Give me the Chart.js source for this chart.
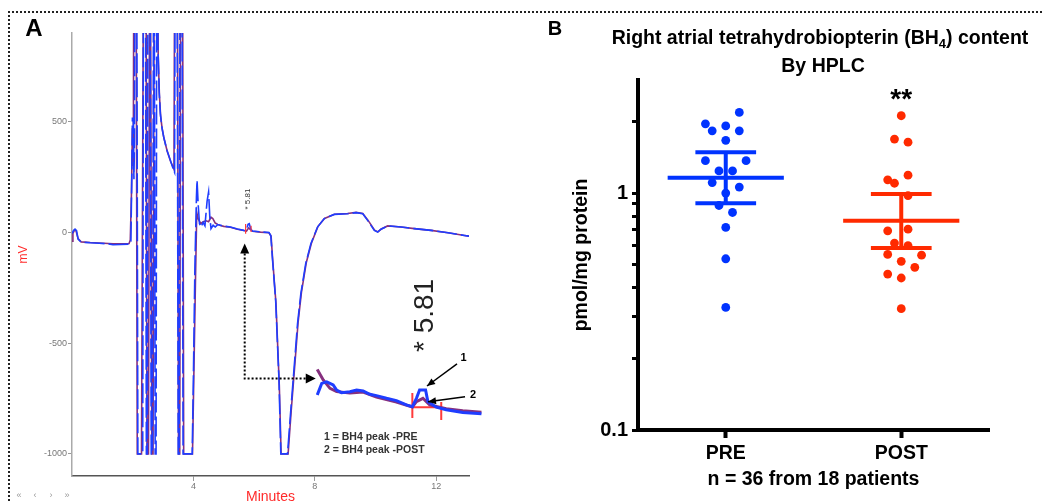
<!DOCTYPE html>
<html>
<head>
<meta charset="utf-8">
<title>Right atrial BH4 by HPLC</title>
<script src="https://cdn.jsdelivr.net/npm/chart.js@4.4.1/dist/chart.umd.min.js"></script>
<style>
  html, body { margin: 0; padding: 0; background: #fff; }
  #figure { position: relative; width: 1042px; height: 503px; overflow: hidden; }
  #figure canvas { position: absolute; }
  #chrom { left: 0; top: 0; }
  #inset { left: 316px; top: 350px; }
  #dots { left: 520px; top: 0; }
  #frame {
    position: absolute; left: 8px; top: 11px; width: 1040px; height: 500px;
    border-top: 2px dotted #222; border-left: 2px dotted #222;
  }
</style>
</head>
<body>
<div id="figure">
  <div id="frame"></div>
  <canvas id="chrom" width="520" height="503"></canvas>
  <canvas id="inset" width="168" height="72"></canvas>
  <canvas id="dots" width="522" height="503"></canvas>
</div>
<script>
const FONT = '"Liberation Sans", Arial, Helvetica, sans-serif';
Chart.defaults.font.family = FONT;
Chart.defaults.animation = false;

// ---------- A: chromatogram, [minutes, mV]; 2000 = off scale ----------
const preTrace = [
  [0, -5], [0.05, 8], [0.1, 15], [0.15, 8], [0.2, -30], [0.3, -44], [0.6, -47], [0.9, -49],
  [1.2, -52], [1.35, -56], [1.6, -55], [1.9, -53],
  [1.94, -40], [1.97, 250], [1.99, 515], [2.02, 515], [2.04, 240], [2.06, 420], [2.08, 2000],
  [2.12, 2000], [2.17, -1000], [2.33, -1000], [2.36, 2000], [2.41, 2000], [2.45, -1000],
  [2.48, -1000], [2.51, 2000], [2.56, 2000], [2.61, -1000], [2.65, -1000], [2.7, 2000],
  [2.74, -1000], [2.77, -1000], [2.8, 2000], [2.83, 850], [2.87, 640], [2.91, 537], [2.96, 476],
  [3.02, 431], [3.13, 370], [3.24, 325], [3.35, 280], [3.38, 270], [3.41, 2000], [3.45, 2000],
  [3.5, -1000], [3.53, -1000], [3.57, 2000], [3.61, 2000], [3.66, -1000], [3.96, -1000],
  [4.0, -650], [4.05, -150], [4.1, 160], [4.12, 235], [4.16, 120], [4.2, 40], [4.25, 24],
  [4.32, 45], [4.38, 30], [4.45, 140], [4.5, 182], [4.54, 70], [4.58, 17], [4.65, 32], [4.72, 24],
  [4.8, 35], [4.89, 32], [5.0, 28], [5.22, 24], [5.45, 15], [5.66, 9], [5.74, 8], [5.8, 36],
  [5.84, 39], [5.89, 15], [5.94, 6], [6.21, 2], [6.49, -1], [6.55, -14], [6.6, -111], [6.71, -307],
  [6.82, -668], [6.88, -1000], [7.1, -1000], [7.2, -818], [7.32, -608], [7.43, -413], [7.54, -277],
  [7.7, -141], [7.87, -51], [8.09, 24], [8.31, 62], [8.64, 81], [9.08, 84], [9.36, 89], [9.58, 84],
  [9.74, 54], [9.96, 9], [10.07, 1], [10.18, 14], [10.4, 29], [10.84, 24], [11.28, 17], [11.83, 9],
  [12.39, -2], [12.93, -14], [13.08, -17]
];
const postTrace = [
  [0, -40], [0.03, -5], [0.08, 10], [0.13, 8], [0.2, -28], [0.3, -43], [0.6, -46], [0.9, -48],
  [1.2, -50], [1.35, -52], [1.6, -52], [1.88, -50],
  [1.92, -35], [1.96, 180], [1.99, 470], [2.02, 300], [2.05, 2000], [2.1, 2000], [2.15, -1000],
  [2.29, -1000], [2.33, 380], [2.38, 2000], [2.43, 2000], [2.47, -1000], [2.52, -1000],
  [2.57, 2000], [2.63, -1000], [2.67, -1000], [2.72, 2000], [2.78, 2000], [2.84, 800], [2.88, 620],
  [2.92, 525], [2.97, 468], [3.03, 425], [3.14, 365], [3.25, 320], [3.36, 285], [3.4, 2000],
  [3.46, 2000], [3.51, -1000], [3.55, -1000], [3.59, 2000], [3.63, 2000], [3.68, -1000],
  [3.97, -1000], [4.02, -600], [4.07, -200], [4.11, 90], [4.16, 60], [4.24, 40], [4.33, 48],
  [4.42, 52], [4.5, 48], [4.58, 68], [4.64, 62], [4.72, 42], [4.8, 36], [4.89, 31], [5.0, 27],
  [5.22, 23], [5.45, 14], [5.66, 8], [5.75, 6], [5.82, 20], [5.88, 12], [5.95, 5], [6.21, 1],
  [6.49, -2], [6.56, -18], [6.61, -120], [6.72, -320], [6.83, -690], [6.89, -1000], [7.12, -1000],
  [7.22, -810], [7.34, -600], [7.45, -405], [7.56, -270], [7.72, -136], [7.89, -48], [8.1, 26],
  [8.32, 63], [8.65, 82], [9.08, 85], [9.36, 90], [9.58, 85], [9.75, 55], [9.97, 10], [10.08, 2],
  [10.19, 15], [10.4, 29], [10.84, 24], [11.28, 17], [11.83, 9], [12.39, -2], [12.93, -14],
  [13.08, -17]
];
// integration start/end marks on the BH4 peak
const peakMarks = [[5.72, 38], [5.72, -6], [5.72, null], [5.9, 30], [5.9, 2]];
const mvTicks = [-1000, -500, 0, 500];
const minuteTicks = [4, 8, 12];

// enlarged view of the BH4 peak region
const insetPre = [
  [5.01, 10.4], [5.045, 20.9], [5.084, 22.3], [5.135, 19.4], [5.162, 14.9], [5.2, 12.5],
  [5.266, 13.4], [5.319, 14.9], [5.37, 14.0], [5.423, 11.0], [5.475, 9.8], [5.554, 7.4],
  [5.632, 5.3], [5.71, 1.4], [5.757, -0.1], [5.789, 7.4], [5.814, 14.9], [5.861, 14.9],
  [5.879, 4.4], [5.945, -0.6], [6.023, -3.0], [6.153, -5.5], [6.3, -6.6]
];
const insetPost = [
  [5.01, 33.5], [5.057, 23.9], [5.11, 16.4], [5.162, 13.4], [5.266, 12.2], [5.37, 13.1],
  [5.475, 8.6], [5.632, 4.1], [5.757, -0.4], [5.789, 4.4], [5.84, 7.4], [5.893, 1.4],
  [6.023, -2.1], [6.153, -3.9], [6.3, -5.2]
];
const insetBaseline = [
  [5.757, 12.2], [5.757, -10.4], [5.757, null], [5.757, -0.7], [5.984, -0.7], [5.984, null],
  [5.984, 4.1], [5.984, -12.2]
];
const peakKeys = ['1', '2'];
const keyFrom = [[6.108, 38.4], [6.171, 8.8]];
const keyTo = [[5.872, 18.5], [5.88, 4.3]];
const keyAt = [[6.159, 43.8], [6.234, 10.4]];

// ---------- B: BH4 content, pmol/mg protein ----------
const groups = ['PRE', 'POST'];
const preValues = [2.19, 1.96, 1.92, 1.83, 1.83, 1.67, 1.37, 1.37, 1.24, 1.24, 1.107, 1.06, 1.0, 0.886, 0.828, 0.716, 0.528, 0.329];
const preSlots = [2, -3, 0, -2, 2, 0, -3, 3, -1, 1, -2, 2, 0, -1, 1, 0, 0, 0];
const postValues = [2.12, 1.69, 1.64, 1.19, 1.137, 1.10, 0.976, 0.693, 0.704, 0.615, 0.60, 0.551, 0.547, 0.515, 0.486, 0.455, 0.438, 0.325];
const postSlots = [0, -1, 1, 1, -2, -1, 1, -2, 1, -1, 1, -2, 3, 0, 2, -2, 0, 0];
const geoMean = [1.159, 0.764];
const ciLow = [0.906, 0.586];
const ciHigh = [1.485, 0.992];
const logTicks = [0.1, 0.2, 0.3, 0.4, 0.5, 0.6, 0.7, 0.8, 0.9, 1, 2];

const BLUE = '#1f3dff', PURPLE = '#86307f', PEAK_RED = '#ff3b3b';

function rotatedText(ctx, text, x, y, font, color) {
  ctx.save();
  ctx.translate(x, y);
  ctx.rotate(-Math.PI / 2);
  ctx.font = font;
  ctx.fillStyle = color;
  ctx.textAlign = 'center';
  ctx.textBaseline = 'middle';
  ctx.fillText(text, 0, 0);
  ctx.restore();
}

function arrowHead(ctx, x0, y0, x1, y1, len, half) {
  const a = Math.atan2(y1 - y0, x1 - x0);
  ctx.beginPath();
  ctx.moveTo(x1, y1);
  ctx.lineTo(x1 - len * Math.cos(a) + half * Math.sin(a), y1 - len * Math.sin(a) - half * Math.cos(a));
  ctx.lineTo(x1 - len * Math.cos(a) - half * Math.sin(a), y1 - len * Math.sin(a) + half * Math.cos(a));
  ctx.closePath();
  ctx.fill();
}

const chromLabels = {
  id: 'chromLabels',
  afterDraw(chart) {
    const { ctx, scales: { x, y } } = chart;
    ctx.save();
    ctx.fillStyle = '#000';
    ctx.font = `bold 24px ${FONT}`;
    ctx.textAlign = 'center';
    ctx.textBaseline = 'middle';
    ctx.fillText('A', 34, 29);

    rotatedText(ctx, '* 5.81', x.getPixelForValue(5.79), y.getPixelForValue(150), `8px ${FONT}`, '#333');
    rotatedText(ctx, '* 5.81', x.getPixelForValue(11.63), y.getPixelForValue(-375), `28px ${FONT}`, '#222');

    // dotted leader from the small peak to the enlarged view
    const xs = x.getPixelForValue(5.69);
    const yTip = y.getPixelForValue(-50);
    const yElbow = y.getPixelForValue(-660);
    const xEnd = x.getPixelForValue(8.03);
    ctx.strokeStyle = '#000';
    ctx.lineWidth = 2;
    ctx.setLineDash([2, 2]);
    ctx.beginPath();
    ctx.moveTo(xs, yTip + 10);
    ctx.lineTo(xs, yElbow);
    ctx.lineTo(xEnd - 10, yElbow);
    ctx.stroke();
    ctx.setLineDash([]);
    arrowHead(ctx, xs, yElbow, xs, yTip, 10, 4.5);
    arrowHead(ctx, xs, yElbow, xEnd, yElbow, 10, 5);

    ctx.font = `bold 10.5px ${FONT}`;
    ctx.fillStyle = '#333';
    ctx.textAlign = 'left';
    ctx.fillText('1 = BH4 peak -PRE', x.getPixelForValue(8.3), y.getPixelForValue(-926));
    ctx.fillText('2 = BH4 peak -POST', x.getPixelForValue(8.3), y.getPixelForValue(-985));

    ctx.font = `9px ${FONT}`;
    ctx.fillStyle = '#999';
    ctx.textAlign = 'center';
    ['\u00ab', '\u2039', '\u203a', '\u00bb'].forEach((g, i) => ctx.fillText(g, 19 + i * 16, 496));
    ctx.restore();
  }
};

new Chart(document.getElementById('chrom'), {
  type: 'line',
  data: {
    datasets: [
      { label: 'PRE', data: preTrace, borderColor: BLUE, borderWidth: 1.6, borderDash: [20, 4], order: 1 },
      { label: 'POST', data: postTrace, borderColor: PURPLE, borderWidth: 1.6, order: 2 },
      { label: 'peak', data: peakMarks, borderColor: PEAK_RED, borderWidth: 1.2, order: 0 }
    ]
  },
  options: {
    responsive: false,
    spanGaps: false,
    elements: { point: { radius: 0 }, line: { tension: 0 } },
    layout: { padding: { left: 0, top: 33, right: 51, bottom: 0 } },
    plugins: { legend: { display: false }, tooltip: { enabled: false } },
    scales: {
      x: {
        type: 'linear', min: 0, max: 13.08,
        afterBuildTicks: s => { s.ticks = minuteTicks.map(v => ({ value: v })); },
        afterFit: s => { s.height = 27; },
        ticks: { callback: v => String(v), font: { size: 9 }, color: '#777', padding: 0, maxRotation: 0 },
        grid: { drawOnChartArea: false, tickLength: 5, color: '#999' },
        border: { color: '#555', width: 1.5 },
        title: { display: true, text: 'Minutes', color: '#ff2a2a', font: { size: 14 }, padding: { top: 0, bottom: -3 } }
      },
      y: {
        type: 'linear', min: -1100, max: 900,
        afterBuildTicks: s => { s.ticks = mvTicks.map(v => ({ value: v })); },
        afterFit: s => { s.width = 72; },
        ticks: { callback: v => String(v), font: { size: 9 }, color: '#777', padding: 1 },
        grid: { drawOnChartArea: false, tickLength: 4, color: '#999' },
        border: { color: '#aaa', width: 1.5 },
        title: { display: true, text: 'mV', color: '#ff2a2a', font: { size: 12 }, padding: { top: 16, bottom: 0 } }
      }
    }
  },
  plugins: [chromLabels]
});

const insetPointers = {
  id: 'insetPointers',
  afterDatasetsDraw(chart) {
    const { ctx, scales: { x, y } } = chart;
    ctx.save();
    ctx.strokeStyle = '#000';
    ctx.fillStyle = '#000';
    ctx.lineWidth = 1.5;
    ctx.font = `bold 11px ${FONT}`;
    ctx.textAlign = 'center';
    ctx.textBaseline = 'middle';
    peakKeys.forEach((k, i) => {
      const x0 = x.getPixelForValue(keyFrom[i][0]), y0 = y.getPixelForValue(keyFrom[i][1]);
      const x1 = x.getPixelForValue(keyTo[i][0]), y1 = y.getPixelForValue(keyTo[i][1]);
      ctx.beginPath();
      ctx.moveTo(x0, y0);
      ctx.lineTo(x1, y1);
      ctx.stroke();
      arrowHead(ctx, x0, y0, x1, y1, 8, 3.5);
      ctx.fillText(k, x.getPixelForValue(keyAt[i][0]), y.getPixelForValue(keyAt[i][1]));
    });
    ctx.restore();
  }
};

new Chart(document.getElementById('inset'), {
  type: 'line',
  data: {
    datasets: [
      { label: 'PRE', data: insetPre, borderColor: BLUE, borderWidth: 3, order: 1 },
      { label: 'POST', data: insetPost, borderColor: PURPLE, borderWidth: 3, order: 2 },
      { label: 'baseline', data: insetBaseline, borderColor: PEAK_RED, borderWidth: 2, order: 3 }
    ]
  },
  options: {
    responsive: false,
    spanGaps: false,
    elements: { point: { radius: 0 }, line: { tension: 0 } },
    layout: { padding: 0 },
    plugins: { legend: { display: false }, tooltip: { enabled: false } },
    scales: {
      x: { type: 'linear', min: 5.0, max: 6.32, display: false },
      y: { type: 'linear', min: -14, max: 51, display: false }
    }
  },
  plugins: [insetPointers]
});

// ---------- B ----------
const dotLabels = {
  id: 'dotLabels',
  afterDraw(chart) {
    const { ctx, scales: { x } } = chart;
    ctx.save();
    ctx.fillStyle = '#000';
    ctx.textBaseline = 'middle';
    ctx.textAlign = 'center';
    ctx.font = `bold 20px ${FONT}`;
    ctx.fillText('B', 35, 29);

    // title line with subscript 4
    const big = `bold 19.5px ${FONT}`, small = `bold 13px ${FONT}`;
    const parts = [['Right atrial tetrahydrobiopterin (BH', big, 0], ['4', small, 4], [') content', big, 0]];
    ctx.textBaseline = 'alphabetic';
    ctx.textAlign = 'left';
    let total = 0;
    parts.forEach(p => { ctx.font = p[1]; total += ctx.measureText(p[0]).width; });
    let cx = 300 - total / 2;
    parts.forEach(p => {
      ctx.font = p[1];
      ctx.fillText(p[0], cx, 44 + p[2]);
      cx += ctx.measureText(p[0]).width;
    });
    ctx.font = big;
    ctx.textAlign = 'center';
    ctx.fillText('By HPLC', 303, 72);

    ctx.font = `bold 28px ${FONT}`;
    ctx.fillText('**', x.getPixelForValue(1), 108);
    ctx.restore();
  }
};

const colors = [ '#0033ff', '#ff2a00' ];
const valuesByGroup = [preValues, postValues];
const slotsByGroup = [preSlots, postSlots];
const slotWidth = 0.0386, meanHalf = 0.331, capHalf = 0.173;
const dotSets = [];
groups.forEach((g, gi) => {
  dotSets.push({
    label: g,
    data: valuesByGroup[gi].map((v, i) => ({ x: gi + slotsByGroup[gi][i] * slotWidth, y: v })),
    backgroundColor: colors[gi], borderWidth: 0, pointRadius: 4.4, order: 1
  });
  const segment = pts => dotSets.push({
    label: g + ' summary', data: pts, showLine: true, borderColor: colors[gi],
    borderWidth: 4, borderCapStyle: 'butt', pointRadius: 0, order: 0
  });
  segment([{ x: gi - meanHalf, y: geoMean[gi] }, { x: gi + meanHalf, y: geoMean[gi] }]);
  segment([{ x: gi, y: ciLow[gi] }, { x: gi, y: ciHigh[gi] }]);
  segment([{ x: gi - capHalf, y: ciLow[gi] }, { x: gi + capHalf, y: ciLow[gi] }]);
  segment([{ x: gi - capHalf, y: ciHigh[gi] }, { x: gi + capHalf, y: ciHigh[gi] }]);
});

new Chart(document.getElementById('dots'), {
  type: 'scatter',
  data: { datasets: dotSets },
  options: {
    responsive: false,
    layout: { padding: { left: 0, top: 80, right: 53, bottom: 0 } },
    plugins: { legend: { display: false }, tooltip: { enabled: false } },
    scales: {
      x: {
        type: 'linear', min: -0.5, max: 1.5,
        afterBuildTicks: s => { s.ticks = groups.map((g, i) => ({ value: i })); },
        afterFit: s => { s.height = 73; },
        ticks: { callback: v => groups[v], font: { size: 19.5, weight: 'bold' }, color: '#000', padding: 4, maxRotation: 0 },
        grid: { drawOnChartArea: false, tickLength: 8, tickWidth: 4, tickColor: '#000' },
        border: { color: '#000', width: 4 },
        title: { display: true, text: 'n = 36 from 18 patients', color: '#000', font: { size: 19.5, weight: 'bold' }, padding: { top: 0, bottom: 11.3 } }
      },
      y: {
        type: 'logarithmic', min: 0.1, max: 3,
        afterBuildTicks: s => { s.ticks = logTicks.map(v => ({ value: v })); },
        afterFit: s => { s.width = 118; },
        ticks: {
          autoSkip: false,
          callback: v => (v === 1 ? '1' : v === 0.1 ? '0.1' : ''),
          font: { size: 20, weight: 'bold' }, color: '#000', padding: 4
        },
        grid: { drawOnChartArea: false, tickLength: 6, tickWidth: 3, tickColor: '#000' },
        border: { color: '#000', width: 4 },
        title: { display: true, text: 'pmol/mg protein', color: '#000', font: { size: 19.5, weight: 'bold' }, padding: { top: 50, bottom: 0 } }
      }
    }
  },
  plugins: [dotLabels]
});
</script>
</body>
</html>
